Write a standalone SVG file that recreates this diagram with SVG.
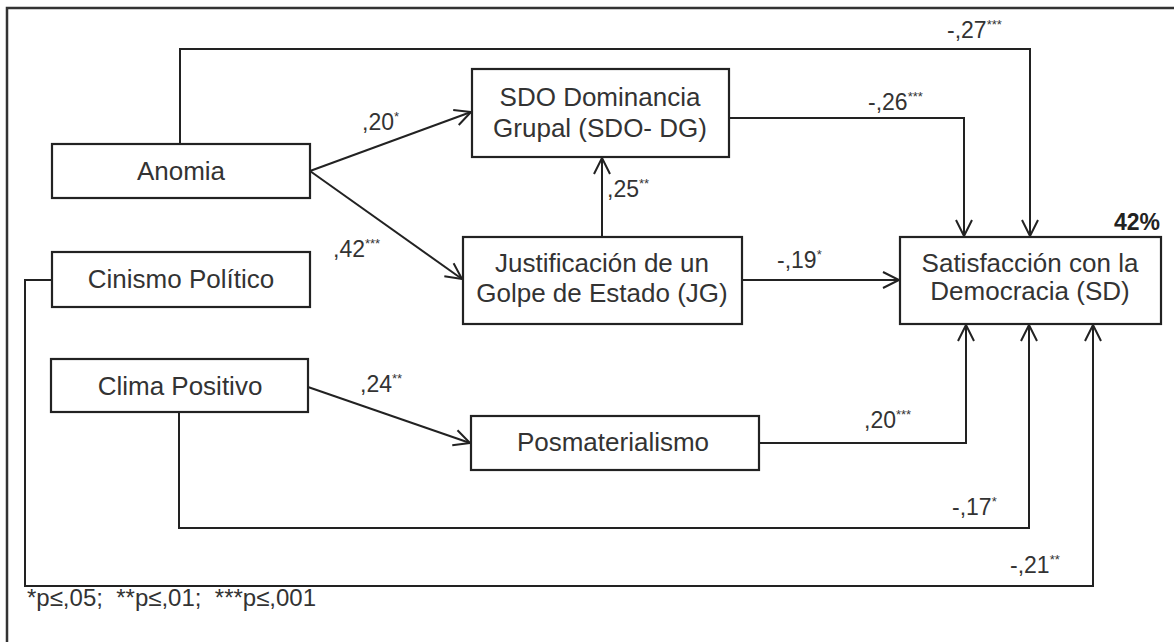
<svg xmlns="http://www.w3.org/2000/svg" width="1174" height="642" viewBox="0 0 1174 642">
  <style>
    .box { fill: #ffffff; stroke: #222222; stroke-width: 2.2; }
    .lbl { font-family: "Liberation Sans", Arial, sans-serif; font-size: 26px; fill: #333333; text-anchor: middle; }
    .coef { font-family: "Liberation Sans", Arial, sans-serif; font-size: 23px; fill: #333333; }
    .sup { font-size: 13px; }
    .edge { fill: none; stroke: #222222; stroke-width: 2; }
    .frame { fill: none; stroke: #333333; stroke-width: 2.5; }
  </style>
  <defs>
    <marker id="open" markerUnits="userSpaceOnUse" viewBox="-19 -11 22 22" markerWidth="22" markerHeight="22" refX="0" refY="0" orient="auto">
      <path d="M -16 -8 L 0 0 L -16 8" fill="none" stroke="#222222" stroke-width="2"/>
    </marker>
  </defs>

  <rect width="1174" height="642" fill="#ffffff"/>

  <!-- outer figure frame (top and left edges) -->
  <path class="frame" d="M 7 642 V 8 H 1174"/>

  <!-- connectors -->
  <g id="connectors">
    <path class="edge" d="M 310 171 L 471 112" marker-end="url(#open)"/>
    <path class="edge" d="M 310 171 L 462 279" marker-end="url(#open)"/>
    <path class="edge" d="M 602 237 V 158" marker-end="url(#open)"/>
    <path class="edge" d="M 729 118 H 964 V 236" marker-end="url(#open)"/>
    <path class="edge" d="M 180 144 V 49 H 1030 V 236" marker-end="url(#open)"/>
    <path class="edge" d="M 742 280 H 899" marker-end="url(#open)"/>
    <path class="edge" d="M 308 387 L 470 443" marker-end="url(#open)"/>
    <path class="edge" d="M 759 443 H 966 V 325" marker-end="url(#open)"/>
    <path class="edge" d="M 179 412 V 528 H 1029 V 325" marker-end="url(#open)"/>
    <path class="edge" d="M 52 280 H 25 V 586 H 1093 V 325" marker-end="url(#open)"/>

    <!-- path coefficients -->
    <text class="coef" x="947" y="38">-,27<tspan class="sup" dy="-9">***</tspan></text>
    <text class="coef" x="868" y="110">-,26<tspan class="sup" dy="-9">***</tspan></text>
    <text class="coef" x="362" y="130">,20<tspan class="sup" dy="-9">*</tspan></text>
    <text class="coef" x="333" y="257">,42<tspan class="sup" dy="-9">***</tspan></text>
    <text class="coef" x="607" y="197">,25<tspan class="sup" dy="-9">**</tspan></text>
    <text class="coef" x="777" y="268">-,19<tspan class="sup" dy="-9">*</tspan></text>
    <text class="coef" x="360" y="392">,24<tspan class="sup" dy="-9">**</tspan></text>
    <text class="coef" x="864" y="428">,20<tspan class="sup" dy="-9">***</tspan></text>
    <text class="coef" x="952" y="515">-,17<tspan class="sup" dy="-9">*</tspan></text>
    <text class="coef" x="1010" y="573">-,21<tspan class="sup" dy="-9">**</tspan></text>
  </g>

  <!-- nodes -->
  <g id="anomia">
    <rect class="box" x="52" y="144" width="258" height="54"/>
    <text class="lbl" x="181" y="180">Anomia</text>
  </g>
  <g id="cinismo">
    <rect class="box" x="52" y="252" width="258" height="55"/>
    <text class="lbl" x="181" y="288">Cinismo Político</text>
  </g>
  <g id="clima">
    <rect class="box" x="51" y="359" width="257" height="53"/>
    <text class="lbl" x="180" y="395">Clima Positivo</text>
  </g>
  <g id="sdo">
    <rect class="box" x="472" y="69" width="257" height="88"/>
    <text class="lbl" x="600" y="106">SDO Dominancia</text>
    <text class="lbl" x="600" y="137">Grupal (SDO- DG)</text>
  </g>
  <g id="jg">
    <rect class="box" x="463" y="237" width="279" height="87"/>
    <text class="lbl" x="602" y="272">Justificación de un</text>
    <text class="lbl" x="602" y="302">Golpe de Estado (JG)</text>
  </g>
  <g id="posmat">
    <rect class="box" x="471" y="416" width="288" height="54"/>
    <text class="lbl" x="613" y="451">Posmaterialismo</text>
  </g>
  <g id="sd">
    <rect class="box" x="900" y="237" width="261" height="87"/>
    <text class="lbl" x="1030" y="272">Satisfacción con la</text>
    <text class="lbl" x="1030" y="300">Democracia (SD)</text>
    <text x="1160" y="230" font-family="Liberation Sans, Arial, sans-serif" font-size="23" font-weight="bold" fill="#222222" text-anchor="end">42%</text>
  </g>

  <!-- significance legend -->
  <text x="27" y="606" font-family="Liberation Sans, Arial, sans-serif" font-size="24" fill="#333333" xml:space="preserve">*p≤,05;  **p≤,01;  ***p≤,001</text>
</svg>
